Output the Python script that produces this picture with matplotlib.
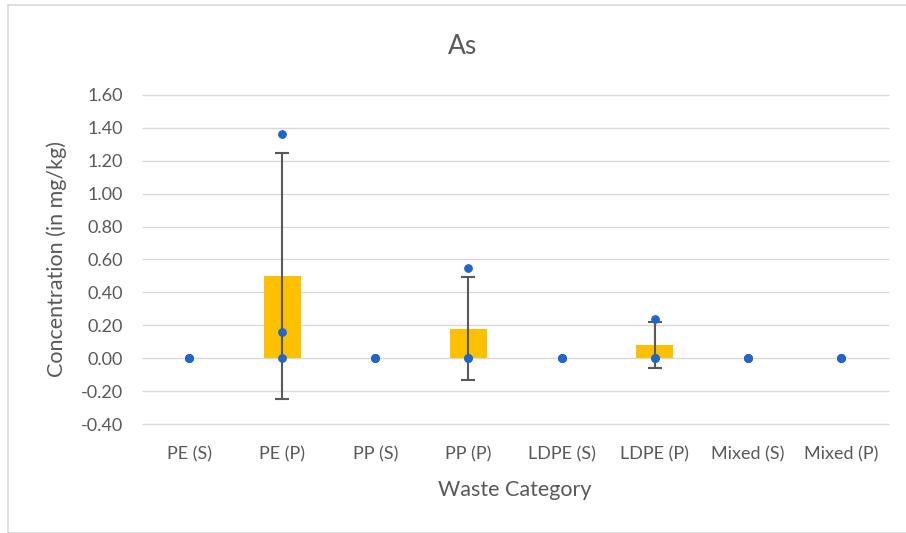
import numpy as np
import matplotlib.pyplot as plt
from matplotlib.patches import Rectangle

categories = ['PE (S)', 'PE (P)', 'PP (S)', 'PP (P)', 'LDPE (S)', 'LDPE (P)', 'Mixed (S)', 'Mixed (P)']
means = [0.0, 0.50, 0.0, 0.18, 0.0, 0.08, 0.0, 0.0]
errors = [0.0, 0.75, 0.0, 0.315, 0.0, 0.14, 0.0, 0.0]
# individual sample values per category
samples = [
    [0.0, 0.0, 0.0],
    [1.36, 0.16, 0.0],
    [0.0, 0.0, 0.0],
    [0.55, 0.0, 0.0],
    [0.0, 0.0, 0.0],
    [0.24, 0.0, 0.0],
    [0.0, 0.0, 0.0],
    [0.0, 0.0, 0.0],
]
yticks = np.arange(-0.4, 1.61, 0.2)

plt.rcParams['font.family'] = ['Lato', 'DejaVu Sans']
txt = '#595959'

fig = plt.figure(figsize=(9.06, 5.33), dpi=100)
fig.patches.append(Rectangle((8 / 906, 0), 1, 1 - 5 / 533, transform=fig.transFigure,
                             fill=False, edgecolor='#d9d9d9', linewidth=1.2))
ax = fig.add_axes([0.1573, 0.2045, 0.8223, 0.6173])

x = np.arange(len(categories))
err_idx = [1, 3, 5]
ax.bar(x, means, width=0.4, color='#ffc000', zorder=2)
ax.errorbar(x[err_idx], np.array(means)[err_idx], yerr=np.array(errors)[err_idx],
            fmt='none', ecolor='#595959', elinewidth=1.5, capsize=5, capthick=1.5, zorder=3)
for i, vals in enumerate(samples):
    ax.scatter([i] * len(vals), vals, s=28, color='#2166c8', zorder=4)

ax.set_xlim(-0.5, len(categories) - 0.5)
ax.set_ylim(-0.4, 1.6)
ax.set_yticks(yticks)
ax.set_yticklabels(['%.2f' % v for v in yticks])
ax.set_xticks(x)
ax.set_xticklabels(categories)
ax.tick_params(axis='both', length=0, labelsize=13, colors=txt)
ax.tick_params(axis='y', pad=14)
ax.tick_params(axis='x', pad=16)
ax.grid(axis='y', color='#d9d9d9', linewidth=1, zorder=0)
for gl in ax.get_ygridlines():
    gl.set_clip_on(False)
ax.set_axisbelow(True)
for s in ax.spines.values():
    s.set_visible(False)

fig.text(463 / 906, 1 - 46 / 533, 'As', fontsize=19, color=txt, ha='center', va='center')
ax.set_xlabel('Waste Category', fontsize=15.5, color=txt, labelpad=13)
ax.set_ylabel('Concentration (in mg/kg)', fontsize=15.5, color=txt, labelpad=10)

fig.savefig('out.png', dpi=100)
